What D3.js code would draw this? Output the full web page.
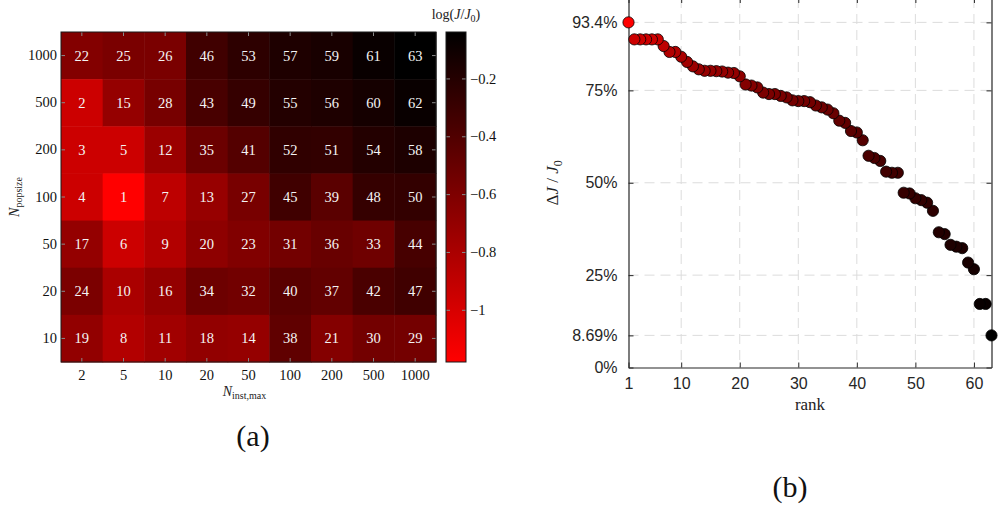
<!DOCTYPE html>
<html>
<head>
<meta charset="utf-8">
<script src="https://cdn.jsdelivr.net/npm/d3@7"></script>
<style>
  html, body { margin: 0; padding: 0; background: #fff; }
  svg { display: block; }
</style>
</head>
<body>
<svg id="fig" width="998" height="505"></svg>
<script>
// Relative improvement ΔJ/J0 for each configuration, listed by rank (rank 1 first)
const deltaJ = [
  0.934, 0.888, 0.888, 0.888, 0.888, 0.888, 0.870, 0.854, 0.854, 0.841,
  0.827, 0.815, 0.807, 0.803, 0.803, 0.802, 0.801, 0.798, 0.797, 0.788,
  0.766, 0.763, 0.758, 0.744, 0.740, 0.740, 0.735, 0.731, 0.723, 0.721,
  0.721, 0.718, 0.709, 0.704, 0.698, 0.688, 0.668, 0.662, 0.640, 0.636,
  0.615, 0.573, 0.567, 0.559, 0.530, 0.527, 0.527, 0.473, 0.471, 0.458,
  0.453, 0.446, 0.424, 0.366, 0.361, 0.332, 0.327, 0.323, 0.284, 0.266,
  0.172, 0.172, 0.0869
];

// Heatmap axes: N_inst,max (columns) and N_popsize (rows, top to bottom)
const instMax = ["2", "5", "10", "20", "50", "100", "200", "500", "1000"];
const popSize = ["1000", "500", "200", "100", "50", "20", "10"];

// Rank of each (popsize, inst,max) cell, rows in the order of popSize
const rankGrid = [
  [22, 25, 26, 46, 53, 57, 59, 61, 63],
  [ 2, 15, 28, 43, 49, 55, 56, 60, 62],
  [ 3,  5, 12, 35, 41, 52, 51, 54, 58],
  [ 4,  1,  7, 13, 27, 45, 39, 48, 50],
  [17,  6,  9, 20, 23, 31, 36, 33, 44],
  [24, 10, 16, 34, 32, 40, 37, 42, 47],
  [19,  8, 11, 18, 14, 38, 21, 30, 29]
];

// Colour bar ticks
const cbTicks = [-0.2, -0.4, -0.6, -0.8, -1];
const cbTickLabels = ["\u22120.2", "\u22120.4", "\u22120.6", "\u22120.8", "\u22121"];

// Rank plot ticks
const rankTicks = [1, 10, 20, 30, 40, 50, 60];
const pctTicks = [0, 0.0869, 0.25, 0.5, 0.75, 0.934];
const pctTickLabels = ["0%", "8.69%", "25%", "50%", "75%", "93.4%"];

const svg = d3.select("#fig");
const SERIF = "'Liberation Serif', 'Times New Roman', serif";
const SANS = "'Liberation Sans', Arial, sans-serif";

// log10(J/J0) = log10(1 - ΔJ/J0)
const logJ = d => Math.log10(1 - d);
const vMin = d3.min(deltaJ, logJ);
const vMax = d3.max(deltaJ, logJ);
const colour = d3.scaleLinear().domain([vMin, vMax])
  .range(["#ff0000", "#000000"]).interpolate(d3.interpolateRgb);

/* ---------------- (a) heatmap ---------------- */
const hm = { left: 61, right: 436, top: 32, bottom: 362 };
const xb = d3.scaleBand().domain(instMax).range([hm.left, hm.right]);
const yb = d3.scaleBand().domain(popSize).range([hm.top, hm.bottom]);

const cells = [];
rankGrid.forEach((row, i) => row.forEach((r, j) => {
  cells.push({ pop: popSize[i], inst: instMax[j], rank: r, v: logJ(deltaJ[r - 1]) });
}));

const gHm = svg.append("g");
gHm.selectAll("rect.cell").data(cells).join("rect")
  .attr("class", "cell")
  .attr("x", d => xb(d.inst))
  .attr("y", d => yb(d.pop))
  .attr("width", xb.bandwidth() + 0.5)
  .attr("height", yb.bandwidth() + 0.5)
  .attr("fill", d => colour(d.v));

gHm.selectAll("text.cell").data(cells).join("text")
  .attr("class", "cell")
  .attr("x", d => xb(d.inst) + xb.bandwidth() / 2)
  .attr("y", d => yb(d.pop) + yb.bandwidth() / 2 + 5)
  .attr("text-anchor", "middle")
  .attr("font-family", SERIF)
  .attr("font-size", 14.5)
  .attr("fill", "#f4f4f4")
  .text(d => d.rank);

function styleHmAxis(g, showLabels) {
  g.select(".domain").remove();
  g.selectAll(".tick line").attr("stroke", "#8a8a8a").attr("stroke-width", 1);
  g.selectAll(".tick text")
    .attr("font-family", SERIF).attr("font-size", 14.5).attr("fill", "#111");
  if (!showLabels) g.selectAll(".tick text").remove();
}
gHm.append("g").attr("transform", `translate(${hm.left},0)`)
  .call(d3.axisLeft(yb).tickSize(-4).tickPadding(4)).call(g => styleHmAxis(g, true));
gHm.append("g").attr("transform", `translate(${hm.right},0)`)
  .call(d3.axisRight(yb).tickSize(-4)).call(g => styleHmAxis(g, false));
gHm.append("g").attr("transform", `translate(0,${hm.bottom})`)
  .call(d3.axisBottom(xb).tickSize(-4).tickPadding(8)).call(g => styleHmAxis(g, true));
gHm.append("g").attr("transform", `translate(0,${hm.top})`)
  .call(d3.axisTop(xb).tickSize(-4)).call(g => styleHmAxis(g, false));

gHm.append("rect")
  .attr("x", hm.left).attr("y", hm.top)
  .attr("width", hm.right - hm.left).attr("height", hm.bottom - hm.top)
  .attr("fill", "none").attr("stroke", "#1a1a1a").attr("stroke-width", 1);

// axis titles
const xt = gHm.append("text")
  .attr("x", (hm.left + hm.right) / 2 - 4).attr("y", 396)
  .attr("text-anchor", "middle").attr("font-family", SERIF).attr("fill", "#222");
xt.append("tspan").attr("font-style", "italic").attr("font-size", 14).text("N");
xt.append("tspan").attr("font-size", 10).attr("dy", 3).text("inst,max");

const yt = gHm.append("text")
  .attr("transform", `translate(19,${(hm.top + hm.bottom) / 2}) rotate(-90)`)
  .attr("text-anchor", "middle").attr("font-family", SERIF).attr("fill", "#222");
yt.append("tspan").attr("font-style", "italic").attr("font-size", 14).text("N");
yt.append("tspan").attr("font-size", 10).attr("dy", 3).text("popsize");

// colour bar
const cb = { left: 446, right: 466 };
const cbScale = d3.scaleLinear().domain([vMin, vMax]).range([hm.bottom, hm.top]);
const defs = svg.append("defs");
const grad = defs.append("linearGradient").attr("id", "cbgrad")
  .attr("x1", 0).attr("y1", 1).attr("x2", 0).attr("y2", 0);
d3.range(0, 1.0001, 0.1).forEach(t => {
  grad.append("stop").attr("offset", t)
    .attr("stop-color", colour(vMin + t * (vMax - vMin)));
});
svg.append("rect")
  .attr("x", cb.left).attr("y", hm.top)
  .attr("width", cb.right - cb.left).attr("height", hm.bottom - hm.top)
  .attr("fill", "url(#cbgrad)");

const gCbR = svg.append("g").attr("transform", `translate(${cb.right},0)`)
  .call(d3.axisRight(cbScale).tickValues(cbTicks).tickSize(-4).tickPadding(4)
    .tickFormat((d, i) => cbTickLabels[i]));
styleHmAxis(gCbR, true);
const gCbL = svg.append("g").attr("transform", `translate(${cb.left},0)`)
  .call(d3.axisLeft(cbScale).tickValues(cbTicks).tickSize(-4));
styleHmAxis(gCbL, false);

svg.append("rect")
  .attr("x", cb.left).attr("y", hm.top)
  .attr("width", cb.right - cb.left).attr("height", hm.bottom - hm.top)
  .attr("fill", "none").attr("stroke", "#1a1a1a").attr("stroke-width", 1);

const cbt = svg.append("text").attr("x", 456).attr("y", 19)
  .attr("text-anchor", "middle").attr("font-family", SERIF).attr("font-size", 14).attr("fill", "#222");
cbt.append("tspan").text("log(");
cbt.append("tspan").attr("font-style", "italic").text("J");
cbt.append("tspan").text("/");
cbt.append("tspan").attr("font-style", "italic").text("J");
cbt.append("tspan").attr("font-size", 10).attr("dy", 3).text("0");
cbt.append("tspan").attr("dy", -3).text(")");

svg.append("text").attr("x", 253).attr("y", 446)
  .attr("text-anchor", "middle").attr("font-family", SERIF).attr("font-size", 30)
  .attr("fill", "#111").text("(a)");

/* ---------------- (b) rank plot ---------------- */
const rp = { left: 628.5, right: 991.5, top: -2, bottom: 367.5 };
const x = d3.scaleLinear().domain([1, 63]).range([rp.left, rp.right]);
const y = d3.scaleLinear().domain([0, 1]).range([rp.bottom, rp.top]);
const gRp = svg.append("g");

// dashed grid
gRp.selectAll("line.vgrid").data(rankTicks.filter(d => d > 1)).join("line")
  .attr("class", "vgrid")
  .attr("x1", d => x(d)).attr("x2", d => x(d))
  .attr("y1", rp.top).attr("y2", rp.bottom)
  .attr("stroke", "#dcdcdc").attr("stroke-width", 1).attr("stroke-dasharray", "10,6");
gRp.selectAll("line.hgrid").data(pctTicks.filter(d => d > 0)).join("line")
  .attr("class", "hgrid")
  .attr("x1", rp.left).attr("x2", rp.right)
  .attr("y1", d => y(d)).attr("y2", d => y(d))
  .attr("stroke", "#dcdcdc").attr("stroke-width", 1).attr("stroke-dasharray", "10,6");

function styleRpAxis(g, showLabels) {
  g.select(".domain").attr("stroke", "#262626").attr("stroke-width", 1.2);
  g.selectAll(".tick line").attr("stroke", "#262626").attr("stroke-width", 1);
  g.selectAll(".tick text")
    .attr("font-family", SANS).attr("font-size", 16).attr("fill", "#262626");
  if (!showLabels) g.selectAll(".tick text").remove();
}
gRp.append("g").attr("transform", `translate(0,${rp.bottom})`)
  .call(d3.axisBottom(x).tickValues(rankTicks).tickSize(-5).tickSizeOuter(0).tickPadding(10))
  .call(g => styleRpAxis(g, true));
gRp.append("g").attr("transform", `translate(0,${rp.top})`)
  .call(d3.axisTop(x).tickValues(rankTicks).tickSize(-5).tickSizeOuter(0))
  .call(g => styleRpAxis(g, false));
gRp.append("g").attr("transform", `translate(${rp.left},0)`)
  .call(d3.axisLeft(y).tickValues(pctTicks).tickSize(-5).tickSizeOuter(0).tickPadding(11)
    .tickFormat((d, i) => pctTickLabels[i]))
  .call(g => styleRpAxis(g, true));
gRp.append("g").attr("transform", `translate(${rp.right},0)`)
  .call(d3.axisRight(y).tickValues(pctTicks).tickSize(-5).tickSizeOuter(0))
  .call(g => styleRpAxis(g, false));

// points, drawn from last rank to first so better ranks sit on top
const pts = deltaJ.map((d, i) => ({ rank: i + 1, d, v: logJ(d) })).reverse();
gRp.selectAll("circle.pt").data(pts).join("circle")
  .attr("class", "pt")
  .attr("cx", d => x(d.rank)).attr("cy", d => y(d.d))
  .attr("r", 5.6)
  .attr("fill", d => colour(d.v))
  .attr("stroke", "#000").attr("stroke-width", 0.8);

gRp.append("text").attr("x", (rp.left + rp.right) / 2).attr("y", 410)
  .attr("text-anchor", "middle").attr("font-family", SERIF).attr("font-size", 17)
  .attr("fill", "#222").text("rank");

const ylab = gRp.append("text")
  .attr("transform", `translate(558,${(rp.top + rp.bottom) / 2}) rotate(-90)`)
  .attr("text-anchor", "middle").attr("font-family", SERIF).attr("font-size", 17).attr("fill", "#222");
ylab.append("tspan").text("\u0394");
ylab.append("tspan").attr("font-style", "italic").text("J");
ylab.append("tspan").text(" / ");
ylab.append("tspan").attr("font-style", "italic").text("J");
ylab.append("tspan").attr("font-size", 12).attr("dy", 4).text("0");

svg.append("text").attr("x", 790).attr("y", 497)
  .attr("text-anchor", "middle").attr("font-family", SERIF).attr("font-size", 30)
  .attr("fill", "#111").text("(b)");
</script>
</body>
</html>
